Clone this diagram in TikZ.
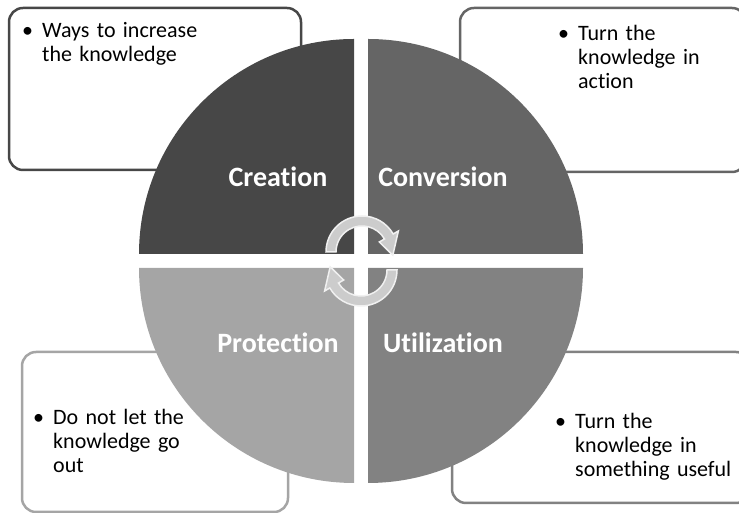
\documentclass[tikz,border=0pt]{standalone}
\usepackage{fontspec}
\setmainfont{Carlito}[Ligatures=NoCommon,WordSpace=0.8]
\definecolor{creC}{HTML}{474747}
\definecolor{conC}{HTML}{656565}
\definecolor{proC}{HTML}{A5A5A5}
\definecolor{utiC}{HTML}{828282}
\begin{document}
\begin{tikzpicture}[x=1pt,y=1pt,
		lbl/.style={text=white,font=\fontsize{28}{32}\selectfont\bfseries},
		txt/.style={anchor=base west,inner sep=0pt,text width=190pt,align=left,font=\fontsize{22}{24}\selectfont},
		infobox/.style={rounded corners=14pt,line width=2.5pt,fill=white},
		cycarrow/.style={fill=black!20,draw=black!6,line width=1.5pt}]
		\useasboundingbox (0,0) rectangle (739,513);
		\clip (0,0) rectangle (739,513);
		% boxes behind the circle
		\draw[infobox,draw=creC] (9,343) rectangle (301,505);
		\draw[infobox,draw=conC] (460,341) rectangle (746,505);
		\draw[infobox,draw=proC] (22,1) rectangle (288,161);
		\draw[infobox,draw=utiC] (452,10) rectangle (750,161);
		\node[txt] (t1) at (42,475) {\noindent\llap{\textbullet\hspace{9pt}}Ways to increase\\the knowledge};
		\node[txt] (t2) at (578,472) {\noindent\llap{\textbullet\hspace{9pt}}Turn the\\knowledge in\\action};
		\node[txt] (t3) at (53,88) {\noindent\llap{\textbullet\hspace{9pt}}Do not let the\\knowledge go\\out};
		\node[txt] (t4) at (575,84) {\noindent\llap{\textbullet\hspace{9pt}}Turn the\\knowledge in\\something useful};
		% the four quarters
		\fill[creC] (354,259) -- ++(180:215) arc[start angle=180,end angle=90,radius=215] -- cycle;
		\fill[conC] (368,259) -- ++(90:215) arc[start angle=90,end angle=0,radius=215] -- cycle;
		\fill[proC] (354,245) -- ++(270:215) arc[start angle=270,end angle=180,radius=215] -- cycle;
		\fill[utiC] (368,245) -- ++(0:215) arc[start angle=0,end angle=-90,radius=215] -- cycle;
		\node[lbl] (cre) at (278,336) {Creation};
		\node[lbl] (con) at (443,336) {Conversion};
		\node[lbl] (pro) at (278,170) {Protection};
		\node[lbl] (uti) at (443,170) {Utilization};
		% cycle arrows
		\draw[cycarrow,shift={(362,261)}] (180:36) arc[start angle=180,end angle=30,radius=36]
			-- (30:42) -- (-6:31) -- (30:20) -- (30:26) arc[start angle=30,end angle=180,radius=26] -- cycle;
		\draw[cycarrow,shift={(361,243)}] (0:36) arc[start angle=0,end angle=-150,radius=36]
			-- (-150:42) -- (174:31) -- (-150:20) -- (-150:26) arc[start angle=-150,end angle=0,radius=26] -- cycle;
	\end{tikzpicture}
\end{document}
